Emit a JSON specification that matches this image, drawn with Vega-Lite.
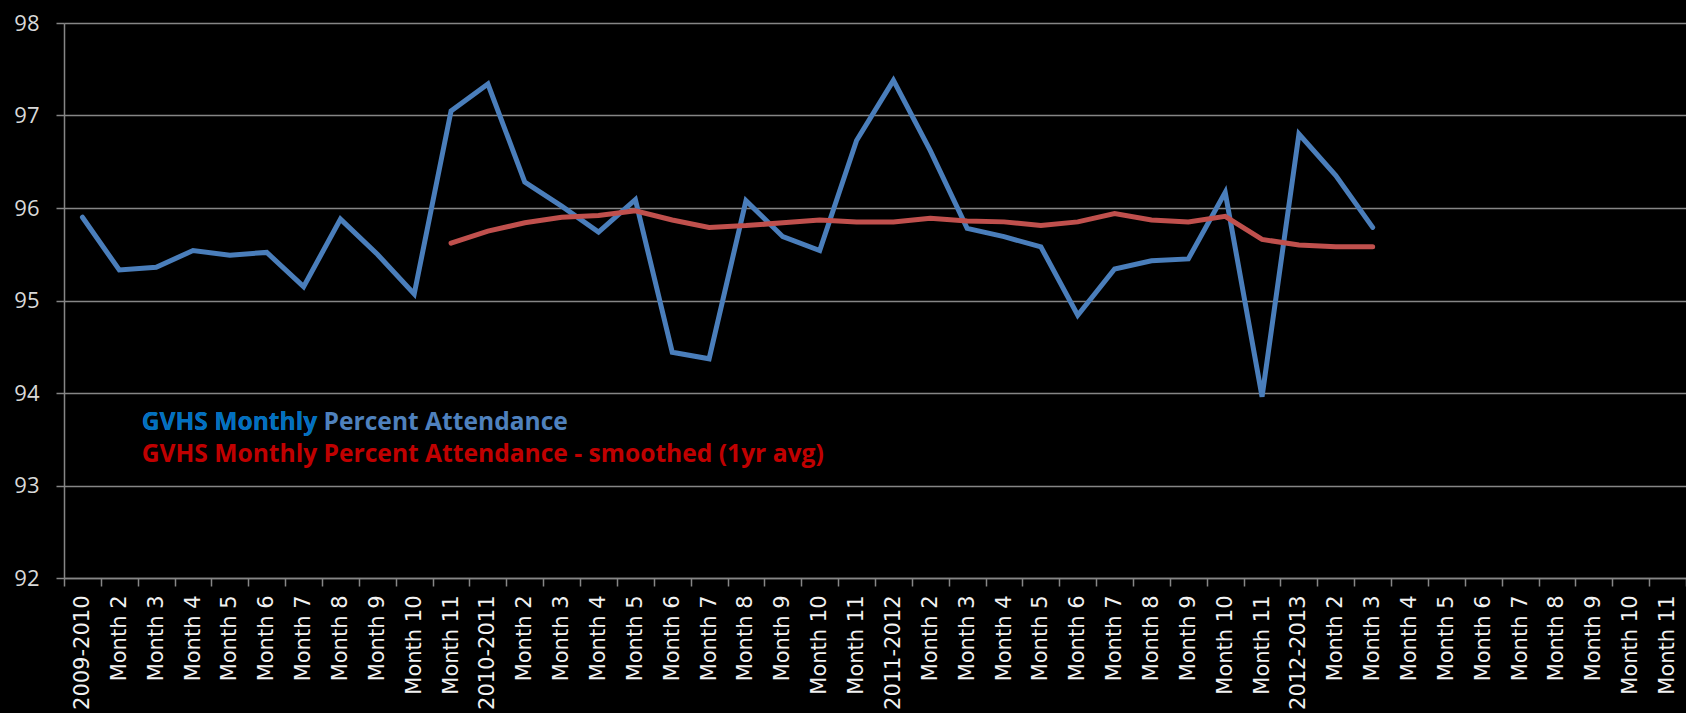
{
  "$schema": "https://vega.github.io/schema/vega-lite/v6.json",
  "autosize": {"type": "none"},
  "width": 1622,
  "height": 555,
  "padding": {"top": 23, "left": 64, "right": 0, "bottom": 135},
  "background": "#000000",
  "config": {"view": {"stroke": null}},
  "datasets": {
    "attendance": [
      {"i": 0, "series": "raw", "value": 95.90},
      {"i": 1, "series": "raw", "value": 95.33},
      {"i": 2, "series": "raw", "value": 95.36},
      {"i": 3, "series": "raw", "value": 95.54},
      {"i": 4, "series": "raw", "value": 95.49},
      {"i": 5, "series": "raw", "value": 95.52},
      {"i": 6, "series": "raw", "value": 95.15},
      {"i": 7, "series": "raw", "value": 95.88},
      {"i": 8, "series": "raw", "value": 95.50},
      {"i": 9, "series": "raw", "value": 95.07},
      {"i": 10, "series": "raw", "value": 97.05},
      {"i": 11, "series": "raw", "value": 97.34},
      {"i": 12, "series": "raw", "value": 96.28},
      {"i": 13, "series": "raw", "value": 96.02},
      {"i": 14, "series": "raw", "value": 95.74},
      {"i": 15, "series": "raw", "value": 96.09},
      {"i": 16, "series": "raw", "value": 94.44},
      {"i": 17, "series": "raw", "value": 94.37},
      {"i": 18, "series": "raw", "value": 96.08},
      {"i": 19, "series": "raw", "value": 95.69},
      {"i": 20, "series": "raw", "value": 95.54},
      {"i": 21, "series": "raw", "value": 96.73},
      {"i": 22, "series": "raw", "value": 97.38},
      {"i": 23, "series": "raw", "value": 96.62},
      {"i": 24, "series": "raw", "value": 95.78},
      {"i": 25, "series": "raw", "value": 95.69},
      {"i": 26, "series": "raw", "value": 95.58},
      {"i": 27, "series": "raw", "value": 94.84},
      {"i": 28, "series": "raw", "value": 95.34},
      {"i": 29, "series": "raw", "value": 95.43},
      {"i": 30, "series": "raw", "value": 95.45},
      {"i": 31, "series": "raw", "value": 96.17},
      {"i": 32, "series": "raw", "value": 93.96},
      {"i": 33, "series": "raw", "value": 96.80},
      {"i": 34, "series": "raw", "value": 96.35},
      {"i": 35, "series": "raw", "value": 95.79},
      {"i": 10, "series": "smooth", "value": 95.62},
      {"i": 11, "series": "smooth", "value": 95.75},
      {"i": 12, "series": "smooth", "value": 95.84},
      {"i": 13, "series": "smooth", "value": 95.90},
      {"i": 14, "series": "smooth", "value": 95.92},
      {"i": 15, "series": "smooth", "value": 95.97},
      {"i": 16, "series": "smooth", "value": 95.87},
      {"i": 17, "series": "smooth", "value": 95.79},
      {"i": 18, "series": "smooth", "value": 95.81},
      {"i": 19, "series": "smooth", "value": 95.84},
      {"i": 20, "series": "smooth", "value": 95.87},
      {"i": 21, "series": "smooth", "value": 95.85},
      {"i": 22, "series": "smooth", "value": 95.85},
      {"i": 23, "series": "smooth", "value": 95.89},
      {"i": 24, "series": "smooth", "value": 95.86},
      {"i": 25, "series": "smooth", "value": 95.85},
      {"i": 26, "series": "smooth", "value": 95.81},
      {"i": 27, "series": "smooth", "value": 95.85},
      {"i": 28, "series": "smooth", "value": 95.94},
      {"i": 29, "series": "smooth", "value": 95.87},
      {"i": 30, "series": "smooth", "value": 95.85},
      {"i": 31, "series": "smooth", "value": 95.91},
      {"i": 32, "series": "smooth", "value": 95.66},
      {"i": 33, "series": "smooth", "value": 95.60},
      {"i": 34, "series": "smooth", "value": 95.58},
      {"i": 35, "series": "smooth", "value": 95.58}
    ],
    "legendText": [
      {"i": 2, "y": 93.68, "text": "GVHS Monthly Percent Attendance", "part": "b"},
      {"i": 2, "y": 93.68, "text": "GVHS Monthly", "part": "a"},
      {"i": 2, "y": 93.33, "text": "GVHS Monthly Percent Attendance - smoothed (1yr avg)", "part": "c"}
    ]
  },
  "layer": [
    {
      "data": {"name": "attendance"},
      "mark": {"type": "line", "strokeWidth": 5, "strokeCap": "round", "strokeJoin": "miter"},
      "encoding": {
        "x": {
          "field": "i",
          "type": "ordinal",
          "scale": {"domain": [0,1,2,3,4,5,6,7,8,9,10,11,12,13,14,15,16,17,18,19,20,21,22,23,24,25,26,27,28,29,30,31,32,33,34,35,36,37,38,39,40,41,42,43], "paddingInner": 0, "paddingOuter": 0},
          "sort": null,
          "axis": {
            "title": null,
            "labelAngle": -90,
            "labelAlign": "right",
            "labelBaseline": "middle",
            "labelFont": "DejaVu Sans",
            "labelFontSize": 21,
            "labelColor": "#f2f2f2",
            "labelPadding": 9,
            "labelOverlap": false,
            "labelExpr": "!isValid(datum.value) || datum.value > 43 ? '' : (datum.value % 11 == 0 ? ['2009-2010','2010-2011','2011-2012','2012-2013'][floor(datum.value / 11)] : 'Month ' + (datum.value % 11 + 1))",
            "tickBand": "extent",
            "tickSize": 8,
            "tickColor": "#868686",
            "tickWidth": 1.5,
            "domainColor": "#868686",
            "domainWidth": 1.5,
            "grid": false
          }
        },
        "y": {
          "field": "value",
          "type": "quantitative",
          "scale": {"domain": [92, 98], "nice": false, "zero": false},
          "axis": {
            "title": null,
            "values": [92, 93, 94, 95, 96, 97, 98],
            "format": "d",
            "labelFont": "Open Sans",
            "labelFontSize": 22,
            "labelColor": "#d9d9d9",
            "labelPadding": 17,
            "tickSize": 8,
            "tickColor": "#868686",
            "tickWidth": 1.5,
            "domainColor": "#868686",
            "domainWidth": 1.5,
            "grid": true,
            "gridColor": "#868686",
            "gridWidth": 1.5
          }
        },
        "color": {
          "field": "series",
          "type": "nominal",
          "scale": {"domain": ["raw", "smooth"], "range": ["#4a7ebb", "#c0504d"]},
          "legend": null
        }
      }
    },
    {
      "data": {"name": "legendText"},
      "mark": {"type": "text", "align": "left", "baseline": "middle", "font": "Open Sans", "fontWeight": "bold", "fontSize": 24.6, "dx": 4},
      "encoding": {
        "x": {"field": "i", "type": "ordinal", "bandPosition": 0},
        "y": {"field": "y", "type": "quantitative"},
        "text": {"field": "text"},
        "color": {
          "field": "part",
          "type": "nominal",
          "scale": {"domain": ["a", "b", "c"], "range": ["#0070c0", "#4f81bd", "#c00000"]},
          "legend": null
        }
      }
    }
  ],
  "resolve": {"scale": {"color": "independent"}}
}
